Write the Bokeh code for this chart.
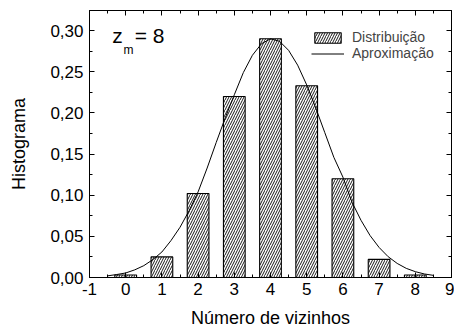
from bokeh.plotting import figure
from bokeh.models import (Range1d, FixedTicker, LinearAxis, Legend, LegendItem, Label,
                          ColumnDataSource)
from bokeh.embed import file_html
from bokeh.resources import INLINE

# --- data -----------------------------------------------------------
neighbours = [0, 1, 2, 3, 4, 5, 6, 7, 8]
histogram = [0.003, 0.025, 0.102, 0.220, 0.290, 0.233, 0.120, 0.022, 0.003]

curve_x = [-0.5, -0.25, 0.0, 0.25, 0.5, 0.75, 1.0, 1.25, 1.5, 1.75, 2.0, 2.25, 2.5,
           2.75, 3.0, 3.25, 3.5, 3.75, 4.0, 4.25, 4.5, 4.75, 5.0, 5.25, 5.5, 5.75,
           6.0, 6.25, 6.5, 6.75, 7.0, 7.25, 7.5, 7.75, 8.0, 8.25, 8.5]
curve_y = [0.002, 0.0036, 0.0055, 0.0093, 0.0144, 0.0217, 0.031, 0.0448, 0.061, 0.081,
           0.104, 0.133, 0.164, 0.194, 0.222, 0.249, 0.270, 0.284, 0.290, 0.287,
           0.276, 0.258, 0.234, 0.206, 0.176, 0.146, 0.122, 0.0916, 0.0695, 0.051,
           0.0365, 0.0253, 0.0171, 0.0111, 0.0071, 0.0043, 0.0026]

x_ticks = [-1, 0, 1, 2, 3, 4, 5, 6, 7, 8, 9]
x_tick_labels = ["-1", "0", "1", "2", "3", "4", "5", "6", "7", "8", "9"]
y_ticks = [0.0, 0.05, 0.10, 0.15, 0.20, 0.25, 0.30]
y_tick_labels = ["0,00", "0,05", "0,10", "0,15", "0,20", "0,25", "0,30"]

legend_labels = ["Distribuição", "Aproximação"]
x_title = "Número de vizinhos"
y_title = "Histograma"

FONT = "Liberation Sans"

p = figure(width=454, height=333, output_backend="svg", toolbar_location=None,
           x_range=Range1d(-1, 9), y_range=Range1d(0, 0.3244),
           min_border_left=89, min_border_right=3, min_border_top=10,
           min_border_bottom=56)
p.xgrid.visible = False
p.ygrid.visible = False
p.outline_line_color = "black"
p.outline_line_width = 1
p.background_fill_color = "white"
p.border_fill_color = "white"

src = ColumnDataSource(dict(x=neighbours, top=histogram))
bars = p.vbar(x="x", top="top", width=0.6, bottom=0, source=src,
              fill_color="white", line_color="black", line_width=1.1,
              hatch_pattern="/", hatch_color="black", hatch_scale=5,
              hatch_weight=0.9)
curve = p.line(curve_x, curve_y, line_color="black", line_width=1)

x_minor = [(a + b) / 2 for a, b in zip(x_ticks[:-1], x_ticks[1:])]
y_minor = [(a + b) / 2 for a, b in zip(y_ticks[:-1], y_ticks[1:])] + [y_ticks[-1] + 0.025]
xt = FixedTicker(ticks=x_ticks, minor_ticks=x_minor)
yt = FixedTicker(ticks=y_ticks, minor_ticks=y_minor)


def style(ax, labels=True):
    ax.axis_line_color = "black"
    ax.major_tick_line_color = "black"
    ax.minor_tick_line_color = "black"
    ax.major_tick_in = 5
    ax.major_tick_out = 0
    ax.minor_tick_in = 3
    ax.minor_tick_out = 0
    ax.major_label_text_font = FONT
    ax.major_label_text_font_size = "17px"
    ax.major_label_text_color = "black"
    ax.axis_label_text_font = FONT
    ax.axis_label_text_font_size = "18px"
    ax.axis_label_text_font_style = "normal"
    ax.axis_label_text_color = "black"
    if not labels:
        ax.major_label_text_alpha = 0
        ax.major_label_text_font_size = "1px"


xa = p.xaxis[0]
xa.ticker = xt
xa.major_label_overrides = dict(zip(x_ticks, x_tick_labels))
xa.axis_label = x_title
xa.major_label_standoff = 5
xa.axis_label_standoff = 10
style(xa)

ya = p.yaxis[0]
ya.ticker = yt
ya.major_label_overrides = dict(zip(y_ticks, y_tick_labels))
ya.axis_label = y_title
ya.major_label_standoff = 6
ya.axis_label_standoff = 18
style(ya)

top_ax = LinearAxis(ticker=xt)
style(top_ax, labels=False)
p.add_layout(top_ax, "above")
right_ax = LinearAxis(ticker=yt)
style(right_ax, labels=False)
p.add_layout(right_ax, "right")

legend = Legend(items=[LegendItem(label=legend_labels[0], renderers=[bars]),
                       LegendItem(label=legend_labels[1], renderers=[curve])],
                location="top_right", margin=0, padding=0, spacing=0,
                glyph_width=33, glyph_height=13, label_standoff=8,
                label_text_font=FONT, label_text_font_size="14px",
                border_line_alpha=0, background_fill_alpha=0)
legend.location = (222, 216)
p.add_layout(legend)

p.add_layout(Label(x=-0.37, y=0.2795, text="z", text_font=FONT,
                   text_font_size="21px", text_color="black"))
p.add_layout(Label(x=-0.06, y=0.268, text="m", text_font=FONT,
                   text_font_size="12px", text_color="black"))
p.add_layout(Label(x=0.25, y=0.2795, text="= 8", text_font=FONT,
                   text_font_size="21px", text_color="black"))

open("out.html", "w").write(file_html(p, INLINE))
